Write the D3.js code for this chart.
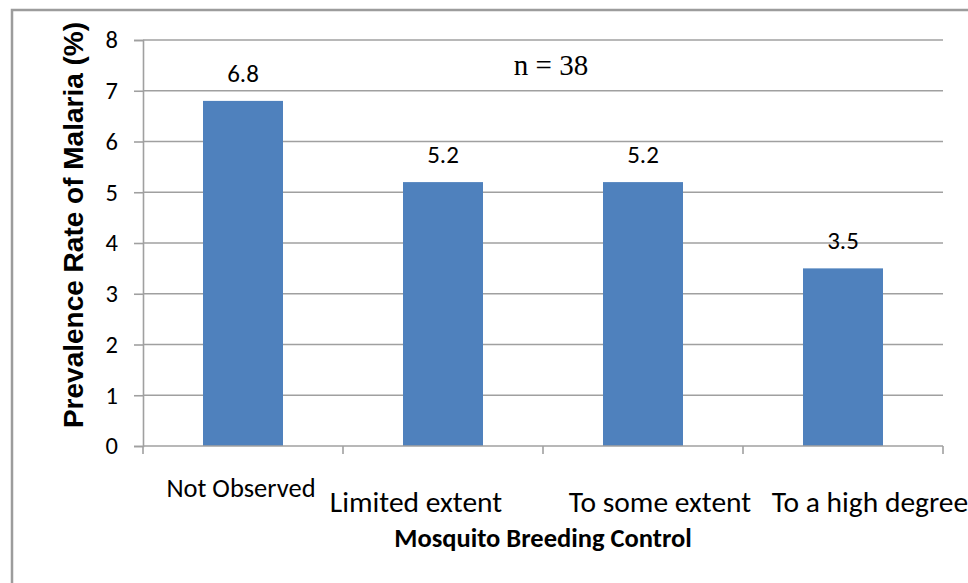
<!DOCTYPE html>
<html>
<head>
<meta charset="utf-8">
<script src="https://cdn.jsdelivr.net/npm/d3@7"></script>
<style>
  body { margin: 0; background: #fff; }
  svg { display: block; }
</style>
</head>
<body>
<svg width="968" height="583"></svg>
<script>
// chart data
const categories = ["Not Observed", "Limited extent", "To some extent", "To a high degree"];
const prevalence = [6.8, 5.2, 5.2, 3.5];
const yTicks = [0, 1, 2, 3, 4, 5, 6, 7, 8];
const sampleNote = "n = 38";
const yTitle = "Prevalence Rate of Malaria (%)";
const xTitle = "Mosquito Breeding Control";

const svg = d3.select("svg");
const calibri = "Carlito, Calibri, Lato, sans-serif";

// outer frame (cropped on right and bottom like the reference)
svg.append("rect")
    .attr("x", 12).attr("y", 10)
    .attr("width", 1000).attr("height", 620)
    .attr("fill", "#fff")
    .attr("stroke", "#9c9c9c")
    .attr("stroke-width", 2.5);

const x = d3.scaleBand()
    .domain(categories)
    .range([143, 943])
    .paddingInner(0.6)
    .paddingOuter(0.3);

const y = d3.scaleLinear()
    .domain([0, 8])
    .range([446, 40]);

// gridlines
svg.append("g")
    .selectAll("line")
    .data(yTicks.filter(d => d > 0))
    .join("line")
    .attr("x1", 143).attr("x2", 943)
    .attr("y1", d => y(d)).attr("y2", d => y(d))
    .attr("stroke", "#a0a0a0")
    .attr("stroke-width", 1.6);

// y axis
const yAxis = svg.append("g")
    .attr("transform", "translate(143,0)")
    .call(d3.axisLeft(y).tickValues(yTicks).tickSize(9).tickPadding(16).tickFormat(d3.format("d")));
yAxis.select(".domain").attr("stroke", "#a0a0a0").attr("stroke-width", 1.6);
yAxis.selectAll(".tick line").attr("stroke", "#a0a0a0").attr("stroke-width", 1.6);
yAxis.selectAll(".tick text")
    .attr("font-family", calibri)
    .attr("font-size", 24.5)
    .attr("fill", "#000");

// bars
svg.append("g")
    .selectAll("rect")
    .data(prevalence)
    .join("rect")
    .attr("x", (d, i) => x(categories[i]))
    .attr("y", d => y(d))
    .attr("width", x.bandwidth())
    .attr("height", d => y(0) - y(d))
    .attr("fill", "#4f81bd");

// value labels
svg.append("g")
    .selectAll("text")
    .data(prevalence)
    .join("text")
    .attr("x", (d, i) => x(categories[i]) + x.bandwidth() / 2)
    .attr("y", d => y(d) - 19)
    .attr("text-anchor", "middle")
    .attr("font-family", calibri)
    .attr("font-size", 25)
    .text(d => d3.format(".1f")(d));

// x axis line and ticks on category boundaries
const xAxis = svg.append("g");
xAxis.append("line")
    .attr("x1", 143).attr("x2", 943)
    .attr("y1", y(0)).attr("y2", y(0))
    .attr("stroke", "#a0a0a0")
    .attr("stroke-width", 1.6);
xAxis.selectAll(".xtick")
    .data(d3.range(categories.length + 1))
    .join("line")
    .attr("class", "xtick")
    .attr("x1", i => 143 + i * x.step()).attr("x2", i => 143 + i * x.step())
    .attr("y1", y(0)).attr("y2", y(0) + 8)
    .attr("stroke", "#a0a0a0")
    .attr("stroke-width", 1.6);

// category labels (the source chart staggers them a bit)
const labelShift = [-2, -27, 17, 27];
const labelDrop = [51, 66, 66, 66];
svg.append("g")
    .selectAll("text")
    .data(categories)
    .join("text")
    .attr("x", (d, i) => x(d) + x.bandwidth() / 2 + labelShift[i])
    .attr("y", (d, i) => y(0) + labelDrop[i])
    .attr("text-anchor", "middle")
    .attr("font-family", calibri)
    .attr("font-size", (d, i) => i === 0 ? 26.5 : 29.5)
    .text(d => d);

// axis titles
svg.append("text")
    .attr("transform", "translate(83,225) rotate(-90)")
    .attr("text-anchor", "middle")
    .attr("font-family", "Liberation Sans, Arial, sans-serif")
    .attr("font-weight", "bold")
    .attr("font-size", 28)
    .text(yTitle);

svg.append("text")
    .attr("x", 543)
    .attr("y", 547)
    .attr("text-anchor", "middle")
    .attr("font-family", calibri)
    .attr("font-weight", "bold")
    .attr("font-size", 26.5)
    .text(xTitle);

// sample size note
svg.append("text")
    .attr("x", 551)
    .attr("y", 75)
    .attr("text-anchor", "middle")
    .attr("font-family", "Liberation Serif, Times New Roman, serif")
    .attr("font-size", 29)
    .text(sampleNote);
</script>
</body>
</html>
